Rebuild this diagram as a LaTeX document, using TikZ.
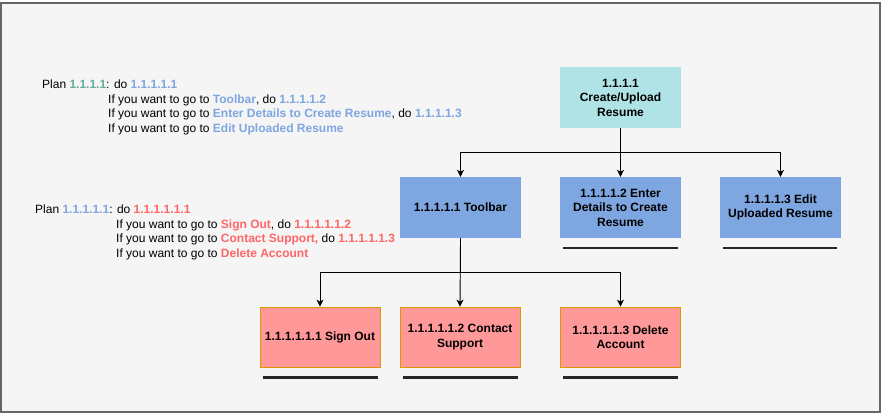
\documentclass[tikz,border=0pt]{standalone}
\usepackage{fontspec}
\setmainfont{Liberation Sans}
\usetikzlibrary{arrows.meta}
\definecolor{bgc}{HTML}{F5F5F5}
\definecolor{framec}{HTML}{666666}
\definecolor{tealc}{HTML}{B0E3E6}
\definecolor{bluec}{HTML}{7EA6E0}
\definecolor{redc}{HTML}{FF9999}
\definecolor{orangec}{HTML}{D79B00}
\definecolor{greent}{HTML}{67AB9F}
\definecolor{bluet}{HTML}{7EA6E0}
\definecolor{redt}{HTML}{FF6666}
\newcommand{\gt}[1]{\textcolor{greent}{\textbf{#1}}}
\newcommand{\bt}[1]{\textcolor{bluet}{\textbf{#1}}}
\newcommand{\rt}[1]{\textcolor{redt}{\textbf{#1}}}
\begin{document}
\begin{tikzpicture}[x=1pt,y=-1pt,
  box/.style={minimum width=121pt, minimum height=61pt, inner sep=0pt, align=center,
    font=\bfseries\fontsize{12}{14.5}\selectfont},
  topbox/.style={box, fill=tealc},
  midbox/.style={box, fill=bluec},
  lowbox/.style={box, fill=redc, draw=orangec, line width=0.8pt, minimum width=120pt, minimum height=60pt},
  arr/.style={-{Stealth[length=7pt,width=7pt,inset=2pt]}, line width=0.9pt, black},
  uline/.style={line width=2.2pt, black!85},
  plan/.style={anchor=base west, inner sep=0pt, font=\fontsize{12}{14.5}\selectfont}
]
\useasboundingbox (0,0) rectangle (881,413);
\draw[fill=bgc, draw=framec, line width=1.5pt] (0.75,2.75) rectangle (879.75,411.75);

% plan texts
\node[plan] (p1) at (42,88.5) {Plan \gt{1.1.1.1}: do \bt{1.1.1.1.1}};
\node[plan] (p2) at (108,103) {If you want to go to \bt{Toolbar}, do \bt{1.1.1.1.2}};
\node[plan] (p3) at (108,117.5) {If you want to go to \bt{Enter Details to Create Resume}, do \bt{1.1.1.1.3}};
\node[plan] (p4) at (108,132) {If you want to go to \bt{Edit Uploaded Resume}};

\node[plan] (q1) at (35,213.5) {Plan \bt{1.1.1.1.1}: do \rt{1.1.1.1.1.1}};
\node[plan] (q2) at (116,228) {If you want to go to \rt{Sign Out}, do \rt{1.1.1.1.1.2}};
\node[plan] (q3) at (116,242.5) {If you want to go to \rt{Contact Support,} do \rt{1.1.1.1.1.3}};
\node[plan] (q4) at (116,257) {If you want to go to \rt{Delete Account}};

% boxes
\node[topbox] (top) at (620.5,97.5) {1.1.1.1\\Create/Upload\\Resume};
\node[midbox] (toolbar) at (460.5,207.5) {1.1.1.1.1 Toolbar};
\node[midbox] (enter) at (620.5,207.5) {1.1.1.1.2 Enter\\Details to Create\\Resume};
\node[midbox] (edit) at (780.5,207.5) {1.1.1.1.3 Edit\\Uploaded Resume};
\node[lowbox] (signout) at (320,337) {1.1.1.1.1.1 Sign Out};
\node[lowbox] (contact) at (460,337) {1.1.1.1.1.2 Contact\\Support};
\node[lowbox] (delete) at (620.5,337) {1.1.1.1.1.3 Delete\\Account};

% connectors
\coordinate (j1) at (620.5,152);
\draw[arr] (top.south) -- (j1) -| (toolbar.north);
\draw[arr] (j1) -| (edit.north);
\draw[arr] (top.south) -- (enter.north);

\coordinate (j2) at (460.5,272);
\draw[arr] (toolbar.south) -- (j2) -| (signout.north);
\draw[arr] (j2) -| (delete.north);
\draw[arr] (toolbar.south) -- (contact.north);

% underlines
\draw[uline] ([xshift=3pt,yshift=-10pt]enter.south west) -- ([xshift=-3pt,yshift=-10pt]enter.south east);
\draw[uline] ([xshift=3pt,yshift=-10pt]edit.south west) -- ([xshift=-4pt,yshift=-10pt]edit.south east);
\draw[uline] ([xshift=3pt,yshift=-10pt]signout.south west) -- ([xshift=-2pt,yshift=-10pt]signout.south east);
\draw[uline] ([xshift=3pt,yshift=-10pt]contact.south west) -- ([xshift=-2pt,yshift=-10pt]contact.south east);
\draw[uline] ([xshift=3pt,yshift=-10pt]delete.south west) -- ([xshift=-3pt,yshift=-10pt]delete.south east);
\end{tikzpicture}
\end{document}
